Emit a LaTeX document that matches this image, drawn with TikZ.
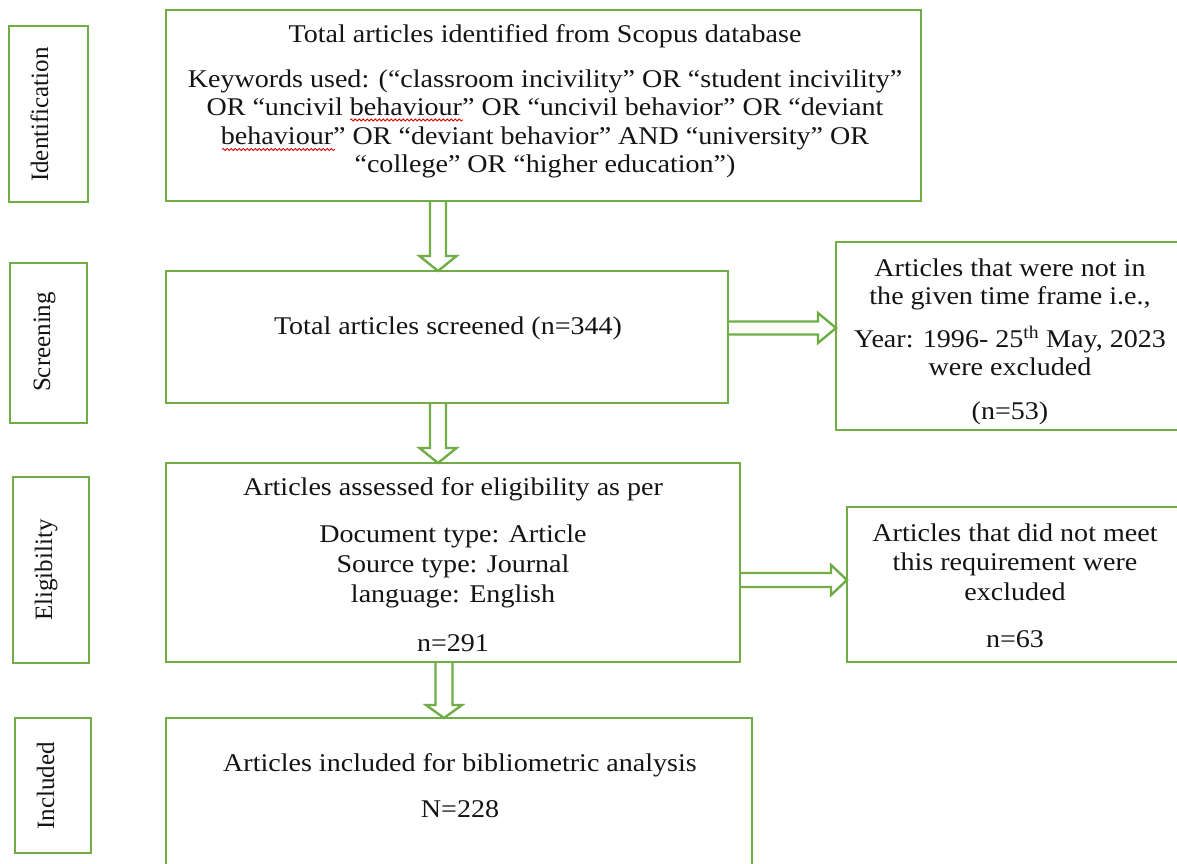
\documentclass[tikz,border=0pt]{standalone}
\usepackage{fontspec}
\setmainfont{Liberation Serif}[FakeStretch=1.1]
\newfontfamily\labfont{Liberation Serif}
\usetikzlibrary{calc,decorations.pathmorphing}
\definecolor{pgreen}{RGB}{112,173,71}
\definecolor{ink}{RGB}{20,20,20}
\newcommand\varrow[6]{\draw[hollow] ($(#3 |- #1.south)+(-#4,0)$) -- ($(#3 |- #2.north)+(-#4,-#6)$) -- ($(#3 |- #2.north)+(-#5,-#6)$) -- (#3 |- #2.north) -- ($(#3 |- #2.north)+(#5,-#6)$) -- ($(#3 |- #2.north)+(#4,-#6)$) -- ($(#3 |- #1.south)+(#4,0)$);}
\newcommand\harrow[6]{\draw[hollow] ($(#1.east |- #3)+(0,-#4)$) -- ($(#2.west |- #3)+(-#6,-#4)$) -- ($(#2.west |- #3)+(-#6,-#5)$) -- (#2.west |- #3) -- ($(#2.west |- #3)+(-#6,#5)$) -- ($(#2.west |- #3)+(-#6,#4)$) -- ($(#1.east |- #3)+(0,#4)$);}
\begin{document}
\begin{tikzpicture}[x=1pt,y=-1pt,
  box/.style={draw=pgreen, line width=2.6pt, rectangle, inner sep=0pt, outer sep=0pt, anchor=north west},
  hollow/.style={draw=pgreen, line width=2.4pt, line join=miter},
  txt/.style={text=ink, align=center, inner sep=0pt, anchor=center},
  wavy/.style={draw=red!85!black, line width=0.8pt, decorate, decoration={snake, segment length=4pt, amplitude=1pt}},
  lab/.style={text=ink, inner sep=0pt, rotate=90, anchor=base, font=\labfont\fontsize{25}{28}\selectfont}]
\fill[white] (0,0) rectangle (1177,864);
\useasboundingbox (0,0) rectangle (1177,864);
% boxes
\node[box, minimum width=79pt, minimum height=176pt] (idl) at (9,26) {};
\node[box, minimum width=755pt, minimum height=191pt] (id) at (166,10) {};
\node[box, minimum width=77pt, minimum height=160pt] (scl) at (10,263) {};
\node[box, minimum width=562pt, minimum height=132pt] (sc) at (166,271) {};
\node[box, minimum width=400pt, minimum height=188pt] (r1) at (836,242) {};
\node[box, minimum width=76pt, minimum height=186pt] (ell) at (13,477) {};
\node[box, minimum width=574pt, minimum height=199pt] (el) at (166,463) {};
\node[box, minimum width=400pt, minimum height=155pt] (r2) at (847,507) {};
\node[box, minimum width=76pt, minimum height=135pt] (inl) at (15,718) {};
\node[box, minimum width=586pt, minimum height=200pt] (in) at (166,718) {};
% axes for arrows
\coordinate (ax1) at (438,0);
\coordinate (ax3) at (444,0);
\coordinate (ay1) at (0,328);
\coordinate (ay2) at (0,580);
\varrow{id}{sc}{ax1}{8}{18.5}{15}
\varrow{sc}{el}{ax1}{8}{18.5}{15}
\varrow{el}{in}{ax3}{8.5}{18}{13}
\harrow{sc}{r1}{ay1}{6.5}{15}{18}
\harrow{el}{r2}{ay2}{7}{15}{16}
% labels
\node[lab] (tidl) at (48,114.5) {Identification};
\node[lab] (tscl) at (50,342) {Screening};
\node[lab] (tell) at (52,570) {Eligibility};
\node[lab] (tinl) at (54,786) {Included};
% texts
\node[txt, font=\fontsize{25.5}{28.5}\selectfont] (tid) at (545,101.5) {Total articles identified from Scopus database\\[16.5pt]
Keywords used: (“classroom incivility” OR “student incivility”\\
OR “uncivil behaviour” OR “uncivil behavior” OR “deviant\\
behaviour” OR “deviant behavior” AND “university” OR\\
“college” OR “higher education”)};
\coordinate (w1a) at (350,120); \coordinate (w1b) at (463,120);
\coordinate (w2a) at (222,149.5); \coordinate (w2b) at (335,149.5);
\draw[wavy] (w1a) -- (w1b);
\draw[wavy] (w2a) -- (w2b);
\node[txt, font=\fontsize{25.5}{28.5}\selectfont] (tsc) at (448,328) {Total articles screened (n=344)};
\node[txt, font=\fontsize{25.5}{28}\selectfont] (tr1) at (1010,341.5) {Articles that were not in\\ the given time frame i.e.,\\[15pt] Year: 1996- 25\textsuperscript{th} May, 2023\\ were excluded\\[16pt] (n=53)};
\node[txt, font=\fontsize{25.5}{30}\selectfont] (tel) at (453,564.5) {Articles assessed for eligibility as per\\[17pt] Document type: Article\\ Source type: Journal\\ language: English\\[19pt] n=291};
\node[txt, font=\fontsize{25.5}{29.5}\selectfont] (tr2) at (1015,586) {Articles that did not meet\\ this requirement were\\ excluded\\[18pt] n=63};
\node[txt, font=\fontsize{25.5}{28.5}\selectfont] (tin) at (460,785.5) {Articles included for bibliometric analysis\\[18pt] N=228};
\end{tikzpicture}
\end{document}
